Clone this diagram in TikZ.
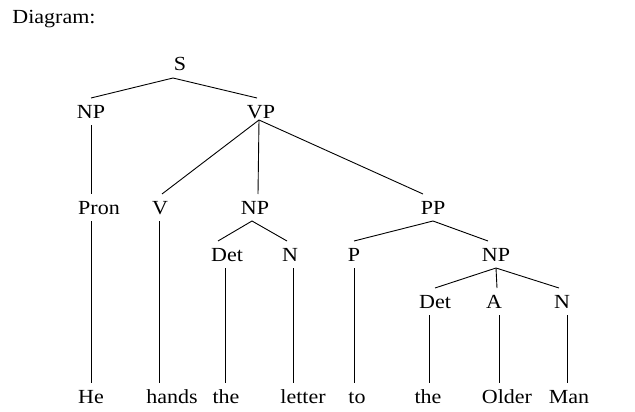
\documentclass[tikz,border=0pt]{standalone}
\usepackage{fontspec}
\setmainfont{Liberation Serif}[FakeStretch=1.1]
\usepackage{tikz}

\begin{document}
\begin{tikzpicture}[x=1pt, y=-1pt, line width=0.9pt,
    font=\fontsize{20}{24}\selectfont,
    cat/.style={inner sep=0pt, outer xsep=0pt, outer ysep=7pt, text height=13pt, text depth=0pt, anchor=base}]
  \useasboundingbox (0,0) rectangle (635,412);
  \node[anchor=base west, inner sep=0pt] (title) at (12,24) {Diagram:};

  % categories
  \node[cat] (s) at (180,71) {S};
  \node[cat] (np1) at (91,118) {NP};
  \node[cat] (vp) at (261,118) {VP};
  \node[cat] (pron) at (99,214) {Pron};
  \node[cat] (v) at (160,214) {V};
  \node[cat] (np2) at (255,214) {NP};
  \node[cat] (pp) at (433,214) {PP};
  \node[cat] (det1) at (227,261) {Det};
  \node[cat] (n1) at (290,261) {N};
  \node[cat] (p) at (354,261) {P};
  \node[cat] (np3) at (496,261) {NP};
  \node[cat] (det2) at (435,308) {Det};
  \node[cat] (a) at (494,308) {A};
  \node[cat] (n2) at (562,308) {N};

  % words
  \node[cat] (he) at (91,403) {He};
  \node[cat] (hands) at (172,403) {hands};
  \node[cat] (the1) at (226,403) {the};
  \node[cat] (letter) at (303,403) {letter};
  \node[cat] (to) at (357,403) {to};
  \node[cat] (the2) at (428,403) {the};
  \node[cat] (older) at (507,403) {Older};
  \node[cat] (man) at (569,403) {Man};

  \draw (np1.north) -- ([xshift=-7pt]s.south) -- ([xshift=-4pt]vp.north);
  \draw ([xshift=2pt]v.north) -- ([xshift=-2pt,yshift=5pt]vp.south) -- ([xshift=-10pt]pp.north);
  \draw ([xshift=-2pt,yshift=5pt]vp.south) -- ([xshift=3pt]np2.north);
  \draw ([xshift=-9pt]det1.north) -- ([xshift=-3pt]np2.south) -- ([xshift=-3pt]n1.north);
  \draw (p.north) -- (pp.south) -- ([xshift=-8pt]np3.north);
  \draw (det2.north) -- (np3.south) -- ([xshift=-3pt]n2.north);
  \draw (np3.south) -- ([xshift=3pt]a.north);
  \draw (np1.south) -- (np1.south |- pron.north);

  \foreach \c/\w/\dx in {pron/he/-8, v/hands/-1, det1/the1/-2, n1/letter/3, p/to/0, det2/the2/-6, a/older/5, n2/man/5}
    \draw ([xshift=\dx pt]\c.south) -- ([xshift=\dx pt]\c.south |- \w.north);
\end{tikzpicture}
\end{document}
